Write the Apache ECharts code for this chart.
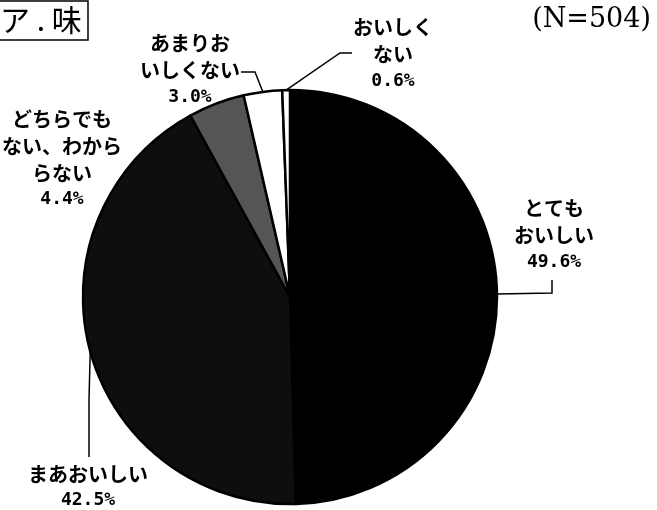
<!DOCTYPE html>
<html>
<head>
<meta charset="utf-8">
<script src="https://cdn.jsdelivr.net/npm/echarts@6/dist/echarts.min.js"></script>
<style>
  html, body { margin: 0; padding: 0; background: #fff; }
  #chart { width: 657px; height: 510px; }
</style>
</head>
<body>
<div id="chart"></div>
<script>
// データ
const categories = ['とても\nおいしい', 'まあおいしい', 'どちらでも\nない、わから\nらない', 'あまりお\nいしくない', 'おいしく\nない']
const values = [49.6, 42.5, 4.4, 3.0, 0.6]
const sliceColors = ['#000000', '#0e0e0e', '#555555', '#ffffff', '#ffffff']

// ラベル位置（中心x, 中心y）
const labelPos = [[554, 235], [88, 487], [62, 159], [190, 70], [393, 54]]
// 引き出し線の曲がり点（なしはnull）
const leaderBends = [
  [[552, 293], [552, 280]],
  [[89, 400], [89, 457]],
  null,
  [[255, 72], [241, 72]],
  [[340, 53], [352, 53]]
]

const myChart = echarts.init(document.getElementById('chart'))

const option = {
  animation: false,
  backgroundColor: '#fff',
  graphic: [
    {
      type: 'rect',
      shape: { x: -2, y: 1, width: 90, height: 39 },
      style: { fill: 'none', stroke: '#000', lineWidth: 1.5 }
    },
    {
      type: 'text',
      left: 0,
      top: 5,
      style: { text: 'ア . 味', font: '30px "Noto Sans CJK JP"', fill: '#000' }
    },
    {
      type: 'text',
      right: 6,
      top: 6,
      style: { text: '(N=504)', font: '27px "DejaVu Serif"', fill: '#000' }
    }
  ],
  series: [
    {
      type: 'pie',
      center: [290, 297],
      radius: ['0%', 207],
      clockwise: true,
      startAngle: 90,
      itemStyle: {
        borderColor: '#000',
        borderWidth: 2.5
      },
      label: {
        show: true,
        position: 'outside',
        color: '#000',
        fontFamily: 'Noto Sans CJK JP',
        fontSize: 20,
        fontWeight: 'bold',
        lineHeight: 27,
        align: 'center',
        overflow: 'none',
        formatter: function (p) {
          return p.name + '\n{pct|' + p.value.toFixed(1) + '%}'
        },
        rich: {
          pct: { fontSize: 18, fontWeight: 'bold', fontFamily: 'DejaVu Sans Mono', lineHeight: 26 }
        }
      },
      labelLine: {
        show: true,
        lineStyle: { color: '#000', width: 1.5 }
      },
      labelLayout: function (params) {
        const i = params.dataIndex
        const res = {
          x: labelPos[i][0],
          y: labelPos[i][1],
          align: 'center',
          verticalAlign: 'middle',
          width: 160
        }
        if (leaderBends[i] && params.labelLinePoints) {
          res.labelLinePoints = [params.labelLinePoints[0]].concat(leaderBends[i])
        }
        return res
      },
      data: categories.map((name, i) => ({
        name: name,
        value: values[i],
        itemStyle: { color: sliceColors[i] },
        labelLine: { show: leaderBends[i] != null }
      }))
    }
  ]
}

myChart.setOption(option)
</script>
</body>
</html>
